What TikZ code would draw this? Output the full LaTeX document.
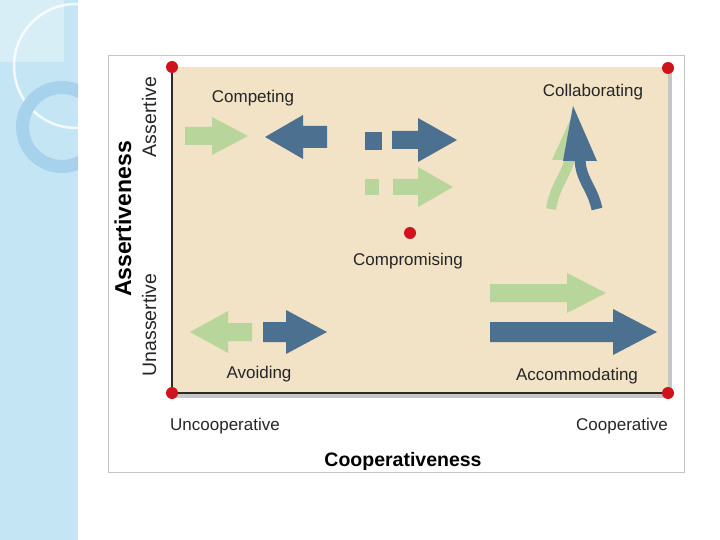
\documentclass[tikz,border=0pt]{standalone}
\usepackage{fontspec}
\setmainfont{Liberation Sans}
\definecolor{stripblue}{HTML}{C4E5F4}
\definecolor{ringblue}{HTML}{A6D2EB}
\definecolor{paper}{HTML}{F2E2C6}
\definecolor{arrowblue}{HTML}{4B7090}
\definecolor{arrowgreen}{HTML}{B8D69C}
\definecolor{dotred}{HTML}{D0121C}
\definecolor{axisdark}{HTML}{2E2A24}

% flat block arrow: colour, tail, head base, tip, y, half body, half head
\newcommand{\blockarrow}[7]{%
  \fill[#1] (#2,{#5-#6}) -- (#3,{#5-#6}) -- (#3,{#5-#7}) -- (#4,#5)
    -- (#3,{#5+#7}) -- (#3,{#5+#6}) -- (#2,{#5+#6}) -- cycle;}

\tikzset{
  lbl/.style={font=\fontsize{17}{20}\selectfont, text=black!85, inner sep=0pt, anchor=base},
  sidelbl/.style={font=\fontsize{19.5}{22}\selectfont, text=black!85, inner sep=0pt, anchor=base, rotate=90},
  axislbl/.style={font=\fontsize{19.5}{22}\selectfont\bfseries, inner sep=0pt, anchor=base},
  dot/.style={circle, fill=dotred, inner sep=0pt, minimum size=12pt}
}

\begin{document}
\begin{tikzpicture}[x=1pt, y=-1pt]
\useasboundingbox (0,0) rectangle (720,540);

% Slide strip on the left
\fill[stripblue] (0,0) rectangle (78,540);
\begin{scope}
  \clip (0,0) rectangle (78,540);
  \fill[white, opacity=0.35] (0,0) rectangle (64,62);
  \draw[white, opacity=0.8, line width=2.5pt] (76,66) circle (62);
  \fill[ringblue, even odd rule] (62,127) circle (46) (62,127) circle (33);
\end{scope}

% Picture frame
\draw[gray!45, fill=white] (108,55) rectangle (684,472);

% Grid area with shadow
\fill[gray!45] (174,70) rectangle (672,398);
\fill[paper] (172,67) rectangle (668,393);
\draw[axisdark, line width=2.6pt] (172,67) -- (172,393) -- (668,393);

% Corner and centre dots
\node[dot] (tl) at (172,67) {};
\node[dot] (tr) at (668,68) {};
\node[dot] (bl) at (172,393) {};
\node[dot] (br) at (668,393) {};
\node[dot] (mid) at (410,233) {};

% Competing
\blockarrow{arrowgreen}{185}{212}{248}{136}{9}{19}
\blockarrow{arrowblue}{327}{303}{265}{137}{11}{22}
\node[lbl] (competing) at (253,103) {Competing};

% Compromising
\fill[arrowblue] (365,132) rectangle (382,150);
\blockarrow{arrowblue}{392}{418}{457}{140}{9}{22}
\fill[arrowgreen] (365,179) rectangle (379,195);
\blockarrow{arrowgreen}{393}{418}{453}{187}{8}{20}
\node[lbl] (compromising) at (408,265) {Compromising};

% Collaborating
\fill[arrowgreen] (552,160) -- (572,116) -- (590,160) -- cycle;
\draw[arrowgreen, line width=10pt] (551,209) .. controls (555,185) and (566,176) .. (570,158);
\draw[arrowblue, line width=11pt] (597,209) .. controls (592,186) and (580,180) .. (580,157);
\fill[arrowblue] (563,161) -- (573,106) -- (597,161) -- cycle;
\node[lbl] (collaborating) at (593,97) {Collaborating};

% Avoiding
\blockarrow{arrowgreen}{252}{228}{190}{332}{9}{21}
\blockarrow{arrowblue}{263}{286}{327}{332}{10}{22}
\node[lbl] (avoiding) at (259,378) {Avoiding};

% Accommodating
\blockarrow{arrowgreen}{490}{567}{606}{293}{9}{20}
\blockarrow{arrowblue}{490}{613}{657}{332}{10}{23}
\node[lbl] (accommodating) at (577,380) {Accommodating};

% Axis labels
\node[lbl] (uncoop) at (225,430) {Uncooperative};
\node[lbl] (coop) at (622,430) {Cooperative};
\node[axislbl] (coopness) at (403,466) {Cooperativeness};
\node[sidelbl] (assertive) at (156,117) {Assertive};
\node[sidelbl] (unassertive) at (156,325) {Unassertive};
\node[axislbl, rotate=90, font=\fontsize{23}{26}\selectfont\bfseries] (assertness) at (131,219) {Assertiveness};

\end{tikzpicture}
\end{document}
